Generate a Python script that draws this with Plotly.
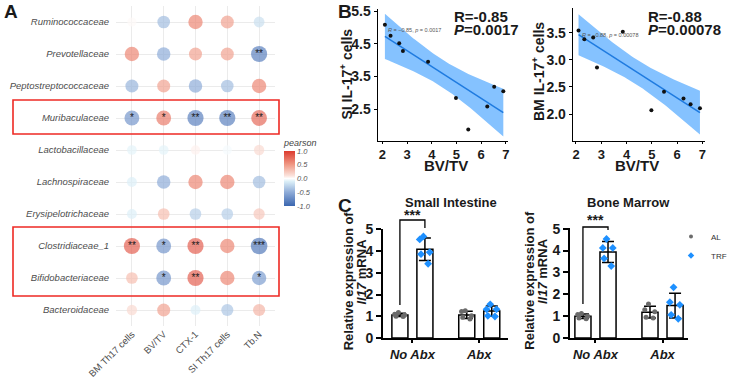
import numpy as np
import plotly.graph_objects as go

W, H = 729, 381
FONT = "Liberation Sans, Arial, Helvetica, sans-serif"

# ---------------- Panel A data ----------------
families = ["Ruminococcaceae", "Prevotellaceae", "Peptostreptococcaceae", "Muribaculaceae",
            "Lactobacillaceae", "Lachnospiraceae", "Erysipelotrichaceae", "Clostridiaceae_1",
            "Bifidobacteriaceae", "Bacteroidaceae"]
variables = ["BM Th17 cells", "BV/TV", "CTX-1", "SI Th17 cells", "Tb.N"]
pearson_r = [
    [0.02, -0.40, 0.60, 0.45, -0.20],
    [0.60, -0.50, 0.45, 0.45, -0.80],
    [-0.45, 0.45, -0.50, -0.40, 0.60],
    [-0.65, 0.65, -0.80, -0.80, 0.75],
    [-0.08, -0.08, 0.05, -0.03, 0.15],
    [-0.10, -0.50, 0.60, 0.60, -0.40],
    [-0.10, 0.30, -0.30, -0.30, 0.25],
    [0.80, -0.65, 0.80, 0.60, -0.85],
    [0.30, -0.65, 0.80, 0.60, -0.60],
    [0.15, 0.45, -0.10, -0.35, 0.35],
]
signif = [
    ["", "", "", "", ""],
    ["", "", "", "", "**"],
    ["", "", "", "", ""],
    ["*", "*", "**", "**", "**"],
    ["", "", "", "", ""],
    ["", "", "", "", ""],
    ["", "", "", "", ""],
    ["**", "*", "**", "", "***"],
    ["", "*", "**", "", "*"],
    ["", "", "", "", ""],
]
cbar_ticks = [-1.0, -0.5, 0.0, 0.5, 1.0]

# ---------------- Panel B data ----------------
bv_tv = [2.10, 2.33, 2.68, 2.83, 3.85, 4.98, 5.48, 6.25, 6.53, 6.90]
si_il17 = [5.09, 4.75, 4.52, 4.28, 3.95, 2.84, 1.88, 2.58, 3.19, 3.05]
bm_il17 = [3.54, 3.38, 3.41, 2.86, 3.52, 2.07, 2.41, 2.29, 2.18, 2.11]
b_xticks = [2, 3, 4, 5, 6, 7]
si_yticks = [2.5, 3.5, 4.5, 5.5]
bm_yticks = [2.0, 2.5, 3.0, 3.5]
T_975_DF8 = 2.306

# ---------------- Panel C data ----------------
groups = ["No Abx", "Abx"]
si_al = [[1.17, 1.06, 1.00, 1.09, 0.99], [1.25, 1.22, 0.95, 1.02, 0.88]]
si_trf = [[4.68, 4.54, 3.95, 3.86, 3.42], [1.55, 1.32, 1.32, 1.02, 0.99]]
bm_al = [[1.12, 1.08, 1.00, 0.92, 0.88], [1.56, 1.29, 1.20, 0.95, 0.91]]
bm_trf = [[4.53, 4.12, 4.12, 3.64, 3.29], [2.32, 1.52, 1.64, 1.06, 0.88]]
c_yticks = [0, 1, 2, 3, 4, 5]

AL_COLOR = "#6B6B6B"
TRF_COLOR = "#1E90FF"

BAR_W = 0.24
OFFSETS = {"AL": -0.187, "TRF": 0.187}


def py(p):
    return 1 - p / H


def px(p):
    return p / W


fig = go.Figure()

# ---------------- Panel A ----------------
cs = [[0.0, "#3B66AF"], [0.25, "#8FACD8"], [0.45, "#DDF0F8"], [0.5, "#FFFFFF"],
      [0.55, "#FBE3DC"], [0.75, "#F09A86"], [1.0, "#DC3B2F"]]
ax_, ay_, ar_ = [], [], []
sx_, sy_, st_ = [], [], []
for i, fam in enumerate(families):
    for j, var in enumerate(variables):
        ax_.append(var)
        ay_.append(fam)
        ar_.append(pearson_r[i][j])
        if signif[i][j]:
            sx_.append(var)
            sy_.append(fam)
            st_.append(signif[i][j])
sizes = [9 + 9 * abs(r) for r in ar_]
fig.add_trace(go.Scatter(
    x=ax_, y=ay_, mode="markers", xaxis="x", yaxis="y", showlegend=False, hoverinfo="skip",
    marker=dict(size=sizes, color=ar_, colorscale=cs, cmin=-1, cmax=1, line=dict(width=0),
                showscale=True,
                colorbar=dict(x=px(284), xanchor="left", y=py(171), yanchor="middle",
                              len=70, lenmode="pixels", thickness=11, thicknessmode="pixels",
                              outlinewidth=0, ticks="", xpad=0, ypad=0,
                              tickvals=cbar_ticks,
                              ticktext=["<i>%.1f</i>" % v for v in cbar_ticks],
                              tickfont=dict(size=7.5, color="#555", family=FONT),
                              title=dict(text="<i>pearson</i>", side="top",
                                         font=dict(size=9, color="#444", family=FONT))))))
fig.add_trace(go.Scatter(
    x=sx_, y=sy_, mode="text", text=st_, textposition="middle center", xaxis="x", yaxis="y",
    textfont=dict(size=10, color="#1a1a1a", family=FONT), showlegend=False, hoverinfo="skip"))

# ---------------- Panel B ----------------
def fit_band(x, y):
    x = np.asarray(x, float)
    y = np.asarray(y, float)
    b, a = np.polyfit(x, y, 1)
    n = len(x)
    resid = y - (a + b * x)
    s = np.sqrt(np.sum(resid ** 2) / (n - 2))
    sxx = np.sum((x - x.mean()) ** 2)
    grid = np.linspace(x.min(), x.max(), 80)
    yhat = a + b * grid
    se = s * np.sqrt(1 / n + (grid - x.mean()) ** 2 / sxx)
    return grid, yhat, yhat - T_975_DF8 * se, yhat + T_975_DF8 * se


for xa, ya, yv in [("x2", "y2", si_il17), ("x3", "y3", bm_il17)]:
    g, yh, lo, hi = fit_band(bv_tv, yv)
    fig.add_trace(go.Scatter(x=np.concatenate([g, g[::-1]]), y=np.concatenate([hi, lo[::-1]]),
                             fill="toself", fillcolor="rgba(51,153,255,0.6)", line=dict(width=0),
                             mode="lines", xaxis=xa, yaxis=ya, showlegend=False, hoverinfo="skip"))
    fig.add_trace(go.Scatter(x=g, y=yh, mode="lines", line=dict(color="#1F7BE0", width=1.5),
                             xaxis=xa, yaxis=ya, showlegend=False, hoverinfo="skip"))
    fig.add_trace(go.Scatter(x=bv_tv, y=yv, mode="markers", marker=dict(color="#111", size=4),
                             xaxis=xa, yaxis=ya, showlegend=False, hoverinfo="skip"))

# ---------------- Panel C ----------------
STYLE = {"AL": (AL_COLOR, "circle", 5), "TRF": (TRF_COLOR, "diamond", 6)}


def add_c(xa, ya, sets_by_name):
    for name, sets in sets_by_name:
        pos = [gi + OFFSETS[name] for gi in range(len(groups))]
        means = [float(np.mean(s)) for s in sets]
        sds = [float(np.std(s, ddof=1)) for s in sets]
        fig.add_trace(go.Bar(x=pos, y=means, width=BAR_W, xaxis=xa, yaxis=ya, showlegend=False,
                             marker=dict(color="white", line=dict(color="black", width=1.5)),
                             error_y=dict(type="data", array=sds, color="black", thickness=1.5, width=6),
                             hoverinfo="skip"))
    for name, sets in sets_by_name:
        color, sym, size = STYLE[name]
        for gi, s in enumerate(sets):
            fig.add_trace(go.Box(x0=gi + OFFSETS[name], y=s, width=BAR_W * 0.9, xaxis=xa, yaxis=ya,
                                 boxpoints="all", jitter=0.85, pointpos=0,
                                 fillcolor="rgba(0,0,0,0)", line=dict(color="rgba(0,0,0,0)", width=0),
                                 whiskerwidth=0, marker=dict(symbol=sym, color=color, size=size),
                                 showlegend=False, hoverinfo="skip"))


add_c("x4", "y4", [("AL", si_al), ("TRF", si_trf)])
add_c("x5", "y5", [("AL", bm_al), ("TRF", bm_trf)])

for name in ["AL", "TRF"]:
    color, sym, size = STYLE[name]
    fig.add_trace(go.Scatter(x=[None], y=[None], mode="markers", name=name, xaxis="x5", yaxis="y5",
                             marker=dict(symbol=sym, color=color, size=size - 1)))

# ---------------- layout ----------------
bold = dict(family=FONT, color="#1a1a1a", weight="bold")
b_axis = dict(showline=True, linecolor="#000", linewidth=1, ticks="outside", tickwidth=1,
              tickcolor="#000", showgrid=False, zeroline=False, automargin=False)
c_axis = dict(showline=True, linecolor="#000", linewidth=2, ticks="outside", tickwidth=1.5,
              tickcolor="#000", showgrid=False, zeroline=False, automargin=False)

C1 = dict(d0=383, d1=508, r0=-0.44, r1=1.43)
C2 = dict(d0=570, d1=688, r0=-0.38, r1=1.38)


def cpix(c, v):
    return c["d0"] + (v - c["r0"]) * (c["d1"] - c["d0"]) / (c["r1"] - c["r0"])


bx_font = dict(size=13, **bold)
by_font = dict(size=14, **bold)

fig.update_layout(
    width=W, height=H, margin=dict(l=0, r=0, t=0, b=0, autoexpand=False),
    paper_bgcolor="white", plot_bgcolor="white",
    font=dict(family=FONT, color="#000"),
    barmode="overlay", boxmode="overlay",
    showlegend=True,
    legend=dict(x=px(671), y=py(222), xanchor="left", yanchor="top", bgcolor="rgba(0,0,0,0)",
                font=dict(size=8, color="#333", family=FONT), tracegroupgap=0),
    xaxis=dict(domain=[px(116), px(275)], type="category", categoryorder="array",
               categoryarray=variables, range=[-0.5, 4.5], showgrid=True, gridcolor="#EBEBEB",
               gridwidth=1, zeroline=False, showline=False, ticks="", tickangle=-45, automargin=False,
               tickfont=dict(size=9.5, color="#4D4D4D", family=FONT), anchor="y"),
    yaxis=dict(domain=[py(326), py(6)], type="category", categoryorder="array",
               categoryarray=families[::-1], range=[-0.5, 9.5], showgrid=True, gridcolor="#EBEBEB",
               gridwidth=1, zeroline=False, showline=False, ticks="", automargin=False,
               tickvals=families, ticktext=["<i>%s</i>" % f for f in families],
               tickfont=dict(size=9.5, color="#4D4D4D", family=FONT), ticklabelstandoff=6, anchor="x"),
    xaxis2=dict(domain=[px(377.5), px(508)], range=[1.80, 7.09], tickvals=b_xticks, anchor="y2",
                ticklen=2, tickfont=bx_font, **b_axis),
    yaxis2=dict(domain=[py(140.5), py(9)], range=[1.54, 5.57], tickvals=si_yticks, tickformat=".1f",
                anchor="x2", ticklen=3, tickfont=by_font, **b_axis),
    xaxis3=dict(domain=[px(572.7), px(705)], range=[1.87, 7.1], tickvals=b_xticks, anchor="y3",
                ticklen=2, tickfont=bx_font, **b_axis),
    yaxis3=dict(domain=[py(140.7), py(8.3)], range=[1.51, 3.95], tickvals=bm_yticks, tickformat=".1f",
                anchor="x3", ticklen=3, tickfont=by_font, **b_axis),
    xaxis4=dict(domain=[px(C1["d0"]), px(C1["d1"])], range=[C1["r0"], C1["r1"]],
                tickvals=list(range(len(groups))), ticktext=["<i>%s</i>" % g for g in groups],
                anchor="y4", tickfont=dict(size=13, **bold), ticklen=3, **c_axis),
    yaxis4=dict(domain=[py(338), py(229)], range=[0, 5.02], tickvals=c_yticks, anchor="x4",
                tickfont=dict(size=14, **bold), ticklen=5, **c_axis),
    xaxis5=dict(domain=[px(C2["d0"]), px(C2["d1"])], range=[C2["r0"], C2["r1"]],
                tickvals=list(range(len(groups))), ticktext=["<i>%s</i>" % g for g in groups],
                anchor="y5", tickfont=dict(size=13, **bold), ticklen=3, **c_axis),
    yaxis5=dict(domain=[py(338), py(228.3)], range=[0, 5.02], tickvals=c_yticks, anchor="x5",
                tickfont=dict(size=14, **bold), ticklen=5, **c_axis),
)

shapes = []
for (t, b) in [(100, 134), (227, 296)]:
    shapes.append(dict(type="rect", xref="paper", yref="paper", x0=px(13), x1=px(279), y0=py(b), y1=py(t),
                       line=dict(color="#EE2A24", width=1.6), fillcolor="rgba(0,0,0,0)"))
for c, top, lbot, rbot in [(C1, 220, 305, 228), (C2, 227, 304, 230)]:
    xl = cpix(c, 0 + OFFSETS["AL"])
    xr = cpix(c, 0 + OFFSETS["TRF"])
    path = "M %f,%f L %f,%f L %f,%f L %f,%f" % (px(xl), py(lbot), px(xl), py(top), px(xr), py(top),
                                                 px(xr), py(rbot))
    shapes.append(dict(type="path", xref="paper", yref="paper", path=path,
                       line=dict(color="black", width=1.3)))
fig.update_layout(shapes=shapes)

ann = []


def A(x, y, text, size, xanchor="center", yanchor="middle", angle=0, color="#1a1a1a", weight="bold"):
    ann.append(dict(x=px(x), y=py(y), xref="paper", yref="paper", text=text, showarrow=False,
                    xanchor=xanchor, yanchor=yanchor, textangle=angle,
                    font=dict(size=size, color=color, family=FONT, weight=weight)))


A(2, 12, "A", 19, xanchor="left")
A(336, 12, "B", 19, xanchor="left")
A(336, 205, "C", 19, xanchor="left")
A(452, 16, "R=-0.85", 15, xanchor="left")
A(452, 29, "<i>P</i>=0.0017", 15, xanchor="left")
A(646, 16, "R=-0.88", 15, xanchor="left")
A(646, 29, "<i>P</i>=0.00078", 15, xanchor="left")
A(386, 30, "<i>R</i> = −0.85, <i>p</i> = 0.0017", 5.5, xanchor="left", color="#555", weight="normal")
A(580, 35, "<i>R</i> = −0.88, <i>p</i> = 0.00078", 5.5, xanchor="left", color="#555", weight="normal")
A(446, 165, "BV/TV", 15)
A(637, 165, "BV/TV", 15)
A(346.5, 74, "SI IL-17<sup>+</sup> cells", 14, angle=-90)
A(538, 72, "BM IL-17<sup>+</sup> cells", 14, angle=-90)
A(451, 202, "Small Intestine", 13)
A(628, 202, "Bone Marrow", 13)
A(348.3, 281, "Relative expression of", 13, angle=-90)
A(360.5, 272, "<i>Il17</i> mRNA", 13, angle=-90)
A(528.7, 280, "Relative expression of", 13, angle=-90)
A(542, 271, "<i>Il17</i> mRNA", 13, angle=-90)
A(cpix(C1, 0), 215, "***", 14)
A(cpix(C2, 0), 220, "***", 14)
fig.update_layout(annotations=ann)

fig.write_html("out.html")
